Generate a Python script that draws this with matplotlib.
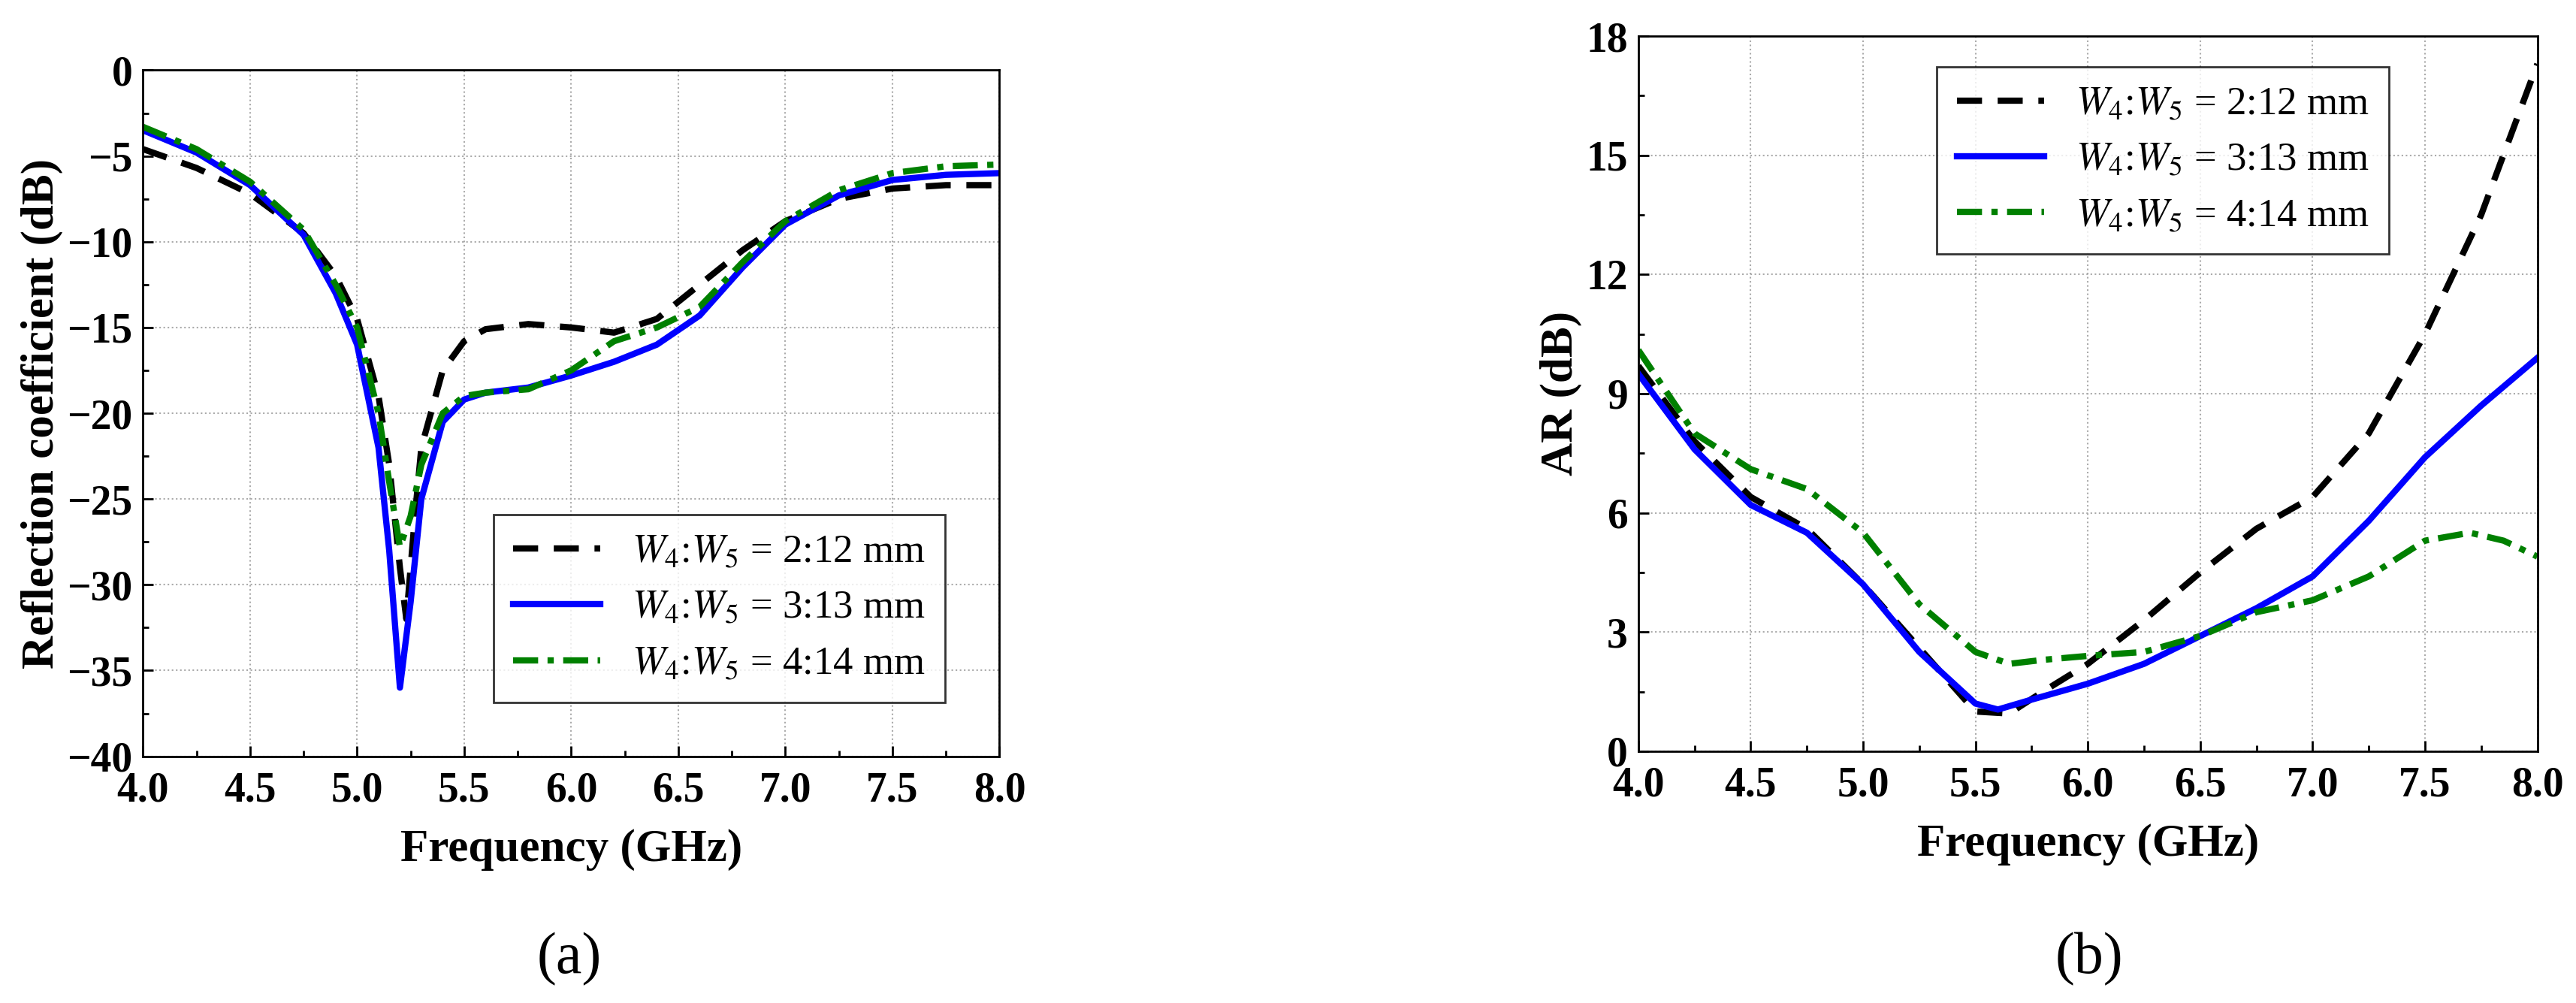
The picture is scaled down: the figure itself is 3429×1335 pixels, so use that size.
import numpy as np
import matplotlib
matplotlib.use('Agg')
import matplotlib.pyplot as plt
from matplotlib.ticker import MultipleLocator

plt.rcParams['font.family'] = 'Liberation Serif'
plt.rcParams['mathtext.fontset'] = 'stix'

# (a) reflection coefficient
fa_k = [4.0, 4.25, 4.5, 4.75, 4.9, 5.0, 5.1, 5.15, 5.2, 5.23, 5.27, 5.3, 5.4, 5.5, 5.6, 5.8, 6.0, 6.2, 6.4, 6.6, 6.8, 7.0, 7.25, 7.5, 7.75, 8.0]
s_k = [-4.6, -5.7, -7.2, -9.5, -12, -14.5, -19, -23, -29, -32, -26, -22, -17.5, -15.8, -15.1, -14.8, -15.0, -15.3, -14.5, -12.5, -10.5, -8.8, -7.5, -6.9, -6.7, -6.7]
fa_b = [4.0, 4.25, 4.5, 4.75, 4.9, 5.0, 5.1, 5.15, 5.2, 5.25, 5.3, 5.4, 5.5, 5.6, 5.8, 6.0, 6.2, 6.4, 6.6, 6.8, 7.0, 7.25, 7.5, 7.75, 8.0]
s_b = [-3.5, -4.8, -6.7, -9.6, -13, -16, -22, -28, -36, -31, -25, -20.5, -19.2, -18.8, -18.5, -17.8, -17.0, -16.0, -14.3, -11.5, -9.0, -7.3, -6.4, -6.1, -6.0]
s_g = [-3.3, -4.6, -6.5, -9.3, -12.5, -15, -20, -24, -27.8, -26, -23, -20, -19, -18.8, -18.6, -17.5, -15.8, -15.0, -13.8, -11.2, -8.8, -7.0, -6.0, -5.6, -5.5]

# (b) axial ratio
fb_k = [4.0, 4.25, 4.5, 4.75, 5.0, 5.25, 5.5, 5.65, 5.8, 6.0, 6.25, 6.5, 6.75, 7.0, 7.25, 7.5, 7.75, 8.0]
ar_k = [9.7, 7.8, 6.4, 5.6, 4.2, 2.6, 1.0, 0.95, 1.5, 2.2, 3.3, 4.5, 5.6, 6.4, 8.0, 10.5, 13.5, 17.3]
fb_b = [4.0, 4.25, 4.5, 4.75, 5.0, 5.25, 5.5, 5.6, 5.75, 6.0, 6.25, 6.5, 6.75, 7.0, 7.25, 7.5, 7.75, 8.0]
ar_b = [9.5, 7.6, 6.2, 5.5, 4.2, 2.5, 1.2, 1.05, 1.3, 1.7, 2.2, 2.9, 3.6, 4.4, 5.8, 7.4, 8.7, 9.9]
fb_g = [4.0, 4.25, 4.5, 4.75, 5.0, 5.25, 5.5, 5.65, 5.8, 6.0, 6.25, 6.5, 6.75, 7.0, 7.25, 7.5, 7.7, 7.85, 8.0]
ar_g = [10.1, 8.0, 7.1, 6.6, 5.5, 3.7, 2.5, 2.2, 2.3, 2.4, 2.5, 2.9, 3.5, 3.8, 4.4, 5.3, 5.5, 5.3, 4.9]

labels = [r'$W_4$:$W_5$ = 2:12 mm', r'$W_4$:$W_5$ = 3:13 mm', r'$W_4$:$W_5$ = 4:14 mm']

fig = plt.figure(figsize=(34.29, 13.35), dpi=100)
axA = fig.add_axes([0.0555, 0.246, 0.3325, 0.684])
axB = fig.add_axes([0.636, 0.251, 0.349, 0.713])

def style(ax):
    ax.set_xlim(4.0, 8.0)
    ax.xaxis.set_major_locator(MultipleLocator(0.5))
    ax.xaxis.set_minor_locator(MultipleLocator(0.25))
    ax.xaxis.set_major_formatter(plt.FormatStrFormatter('%.1f'))
    ax.grid(True, which='major', linestyle=':', color='#aaaaaa', linewidth=1.5)
    ax.tick_params(which='both', direction='in', labelsize=40, width=2)
    ax.tick_params(which='major', length=10)
    ax.tick_params(which='minor', length=6)
    ax.tick_params(axis='x', pad=14)
    ax.tick_params(axis='y', pad=10)
    for lbl in ax.get_xticklabels() + ax.get_yticklabels():
        lbl.set_fontweight('bold')
    for s in ax.spines.values():
        s.set_linewidth(2)
    ax.set_xlabel('Frequency (GHz)', fontsize=44, fontweight='bold', labelpad=18)

lw = 6
axA.plot(fa_k, s_k, color='black', linestyle=(0, (4, 2.5)), linewidth=lw, label=labels[0])
axA.plot(fa_b, s_b, color='blue', linewidth=lw, label=labels[1])
axA.plot(fa_b, s_g, color='green', linestyle=(0, (4, 1.5, 1, 1.5)), linewidth=lw, label=labels[2])
axA.set_ylim(-40, 0)
axA.yaxis.set_major_locator(MultipleLocator(5))
axA.yaxis.set_minor_locator(MultipleLocator(2.5))
style(axA)
axA.set_ylabel('Reflection coefficient (dB)', fontsize=44, fontweight='bold')
legA = axA.legend(loc='lower right', bbox_to_anchor=(0.96, 0.05), fontsize=38, fancybox=False,
                  edgecolor='black', handlelength=2.2, labelspacing=0.5, borderpad=0.5)
legA.get_frame().set_linewidth(2)

axB.plot(fb_k, ar_k, color='black', linestyle=(0, (4, 2.5)), linewidth=lw, label=labels[0])
axB.plot(fb_b, ar_b, color='blue', linewidth=lw, label=labels[1])
axB.plot(fb_g, ar_g, color='green', linestyle=(0, (4, 1.5, 1, 1.5)), linewidth=lw, label=labels[2])
axB.set_ylim(0, 18)
axB.yaxis.set_major_locator(MultipleLocator(3))
axB.yaxis.set_minor_locator(MultipleLocator(1.5))
style(axB)
axB.set_ylabel('AR (dB)', fontsize=44, fontweight='bold')
legB = axB.legend(loc='upper left', bbox_to_anchor=(0.31, 0.985), fontsize=38, fancybox=False,
                  edgecolor='black', handlelength=2.2, labelspacing=0.5, borderpad=0.5)
legB.get_frame().set_linewidth(2)

fig.text(0.221, 0.03, '(a)', fontsize=56, ha='center')
fig.text(0.811, 0.03, '(b)', fontsize=56, ha='center')

fig.savefig('out.png', dpi=100)
